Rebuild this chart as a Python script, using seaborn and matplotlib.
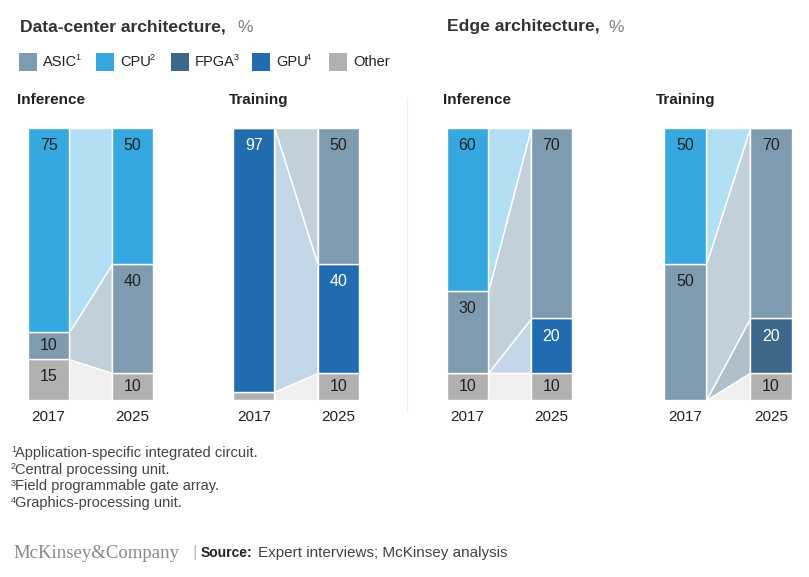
import numpy as np
import pandas as pd
import matplotlib
matplotlib.use("Agg")
import matplotlib.pyplot as plt
from matplotlib.patches import Rectangle
from matplotlib.lines import Line2D
import seaborn as sns

# Data (stack order bottom -> top)
years = ["2017", "2025"]
stack_order = ["Other", "FPGA", "GPU", "ASIC", "CPU"]
legend_order = ["ASIC", "CPU", "FPGA", "GPU", "Other"]
legend_sup = ["1", "2", "3", "4", ""]

dc_inference_2017 = [15, 0, 0, 10, 75]
dc_inference_2025 = [10, 0, 0, 40, 50]
dc_training_2017 = [3, 0, 97, 0, 0]
dc_training_2025 = [10, 0, 40, 50, 0]
edge_inference_2017 = [10, 0, 0, 30, 60]
edge_inference_2025 = [10, 0, 20, 70, 0]
edge_training_2017 = [0, 0, 0, 50, 50]
edge_training_2025 = [10, 20, 0, 70, 0]

footnotes = [
    "Application-specific integrated circuit.",
    "Central processing unit.",
    "Field programmable gate array.",
    "Graphics-processing unit.",
]

colors = {"ASIC": "#7f9bb0", "CPU": "#34a8df", "FPGA": "#3d6889",
          "GPU": "#216cb0", "Other": "#b1b1b1"}
light = {"ASIC": "#c2d1d9", "CPU": "#b2dff3", "FPGA": "#afc0ca",
         "GPU": "#c4d7e8", "Other": "#efefef"}
dark_text = {"GPU", "FPGA"}

sns.set_style("white")
plt.rcParams["font.family"] = ["Liberation Sans", "DejaVu Sans"]

W, H = 809, 577
fig = plt.figure(figsize=(W / 100, H / 100), dpi=100)
renderer = fig.canvas.get_renderer()


def px(x, y):
    return x / W, 1 - y / H


def draw_panel(left, right, vals17, vals25, title, title_x):
    top, bottom = 128, 400
    ax = fig.add_axes([left / W, (H - bottom) / H, (right - left) / W, (bottom - top) / H])
    w = 0.49
    base17 = np.concatenate([[0], np.cumsum(vals17)[:-1]])
    base25 = np.concatenate([[0], np.cumsum(vals25)[:-1]])
    for i, cat in enumerate(stack_order):
        v17, v25 = vals17[i], vals25[i]
        if v17 == 0 and v25 == 0:
            continue
        # connecting ribbon between the two bars
        ax.fill_between([w / 2, 1 - w / 2], [base17[i], base25[i]],
                        [base17[i] + v17, base25[i] + v25],
                        facecolor=light[cat], edgecolor="white", linewidth=1, zorder=1)
        df = pd.DataFrame({"year": years, "share": [v17, v25]})
        sns.barplot(data=df, x="year", y="share", order=years, ax=ax,
                    bottom=[base17[i], base25[i]], color=colors[cat], saturation=1,
                    width=w, errorbar=None, edgecolor="white", linewidth=1, zorder=2)
        for xpos, v, b in [(0, v17, base17[i]), (1, v25, base25[i])]:
            if v >= 10:
                ypos = b + v - min(6.5, v / 2)
                ax.text(xpos, ypos, str(v), ha="center", va="center", fontsize=11.5,
                        color="white" if cat in dark_text else "#222222", zorder=3)
    ax.set_xlim(-w / 2, 1 + w / 2)
    ax.set_ylim(0, 100)
    ax.set_yticks([])
    ax.set_xlabel("")
    ax.set_ylabel("")
    ax.tick_params(axis="x", length=0, pad=7, labelsize=11, labelcolor="#222222")
    sns.despine(ax=ax, left=True, bottom=True)
    ax.patch.set_alpha(0)
    fig.text(*px(title_x, 100), title, fontsize=11, fontweight="bold",
             color="#222222", va="center", ha="left")
    return ax


draw_panel(28, 153, dc_inference_2017, dc_inference_2025, "Inference", 17)
draw_panel(233, 359, dc_training_2017, dc_training_2025, "Training", 229)
draw_panel(447, 572, edge_inference_2017, edge_inference_2025, "Inference", 443)
draw_panel(664, 792, edge_training_2017, edge_training_2025, "Training", 656)

# section titles
fig.text(*px(20, 27), "Data-center architecture,", fontsize=12.6, fontweight="bold",
         color="#333333", va="center")
fig.text(*px(237, 27), "%", fontsize=12.5, color="#808080", va="center")
fig.text(*px(447, 27), "Edge architecture,", fontsize=12.6, fontweight="bold",
         color="#333333", va="center")
fig.text(*px(608, 27), "%", fontsize=12.5, color="#808080", va="center")

# legend
legend_x = [19, 96, 171, 252, 329]
for x, cat, sup in zip(legend_x, legend_order, legend_sup):
    fx, fy = px(x, 71)
    fig.add_artist(Rectangle((fx, fy), 18 / W, 18 / H, transform=fig.transFigure,
                             facecolor=colors[cat], edgecolor="none"))
    t = fig.text(*px(x + 24, 62), cat, fontsize=10.5, color="#222222", va="center")
    if sup:
        x1 = t.get_window_extent(renderer).x1
        fig.text(*px(x1 - 1.5, 58), sup, fontsize=6.5, color="#222222", va="center")

# divider between sections
fig.add_artist(Line2D([407 / W, 407 / W], [1 - 98 / H, 1 - 412 / H],
                      transform=fig.transFigure, color="#f0f0f0", linewidth=1))

# footnotes
for k, note in enumerate(footnotes):
    y = 453 + k * 16.7
    fig.text(*px(11, y - 3), str(k + 1), fontsize=6.5, color="#444444", va="center")
    fig.text(*px(15.5, y), note, fontsize=10.5, color="#444444", va="center")

# source line
fig.text(*px(13, 553), "McKinsey&Company", family="Liberation Serif", fontsize=13.5,
         color="#8a8a8a", va="center")
fig.text(*px(192, 553), "|", fontsize=12, color="#bbbbbb", va="center")
fig.text(*px(201, 553), "Source:", fontsize=10, fontweight="bold", color="#222222", va="center")
fig.text(*px(258, 553), "Expert interviews; McKinsey analysis", fontsize=11,
         color="#444444", va="center")

fig.savefig("out.png", dpi=100)
